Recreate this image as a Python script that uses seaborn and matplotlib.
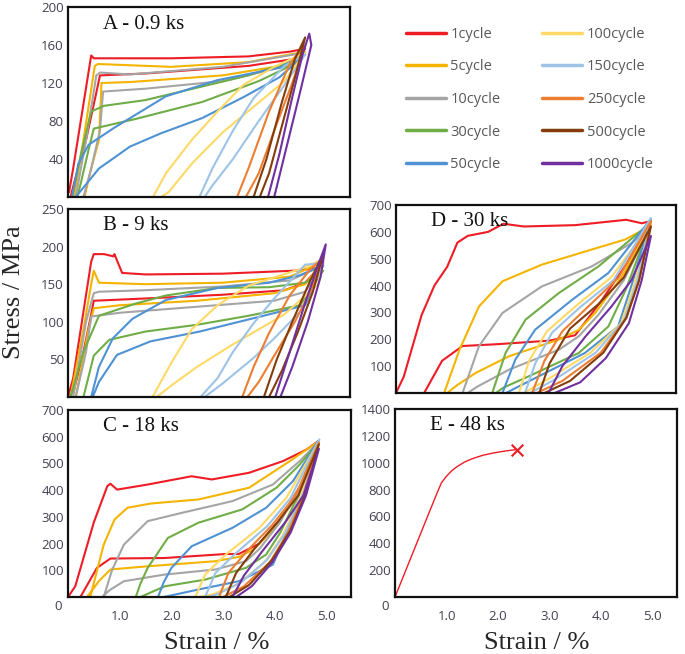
import matplotlib
matplotlib.use("Agg")
import matplotlib.pyplot as plt
from matplotlib.lines import Line2D
import pandas as pd
import seaborn as sns

cycles = ["1cycle", "5cycle", "10cycle", "30cycle", "50cycle",
          "100cycle", "150cycle", "250cycle", "500cycle", "1000cycle"]
colors = ["#ee1c25", "#f5b400", "#a5a5a5", "#70ad47", "#4e92d3",
          "#ffd966", "#9dc3e6", "#ed7d31", "#843c0c", "#7030a0"]

# --- A - 0.9 ks : loading + unloading path for each cycle (strain %, stress MPa)
A_eps = [
    [0.02, 0.1, 0.45, 0.5, 2.0, 3.5, 4.3, 4.6, 4.35, 3.5, 1.5, 0.62, 0.55, 0.35, 0.12, 0.05],
    [0.12, 0.3, 0.52, 0.58, 2.0, 3.5, 4.6, 4.35, 3.0, 1.2, 0.65, 0.6, 0.45, 0.32],
    [0.15, 0.35, 0.55, 0.62, 1.2, 3.0, 4.6, 4.4, 3.0, 1.5, 0.68, 0.62, 0.45, 0.3],
    [0.08, 0.25, 0.45, 0.7, 1.5, 2.5, 3.5, 4.2, 4.6, 4.2, 3.7, 2.6, 1.3, 0.5, 0.4, 0.25, 0.18],
    [0.08, 0.2, 0.4, 0.9, 1.9, 2.9, 4.1, 4.6, 4.1, 3.4, 2.6, 1.8, 1.2, 0.6, 0.3, 0.15],
    [1.65, 1.9, 2.4, 2.9, 3.4, 4.0, 4.6, 4.2, 3.6, 3.0, 2.4, 1.95, 1.8],
    [2.55, 2.8, 3.2, 3.6, 4.2, 4.6, 4.2, 3.7, 3.2, 2.8, 2.65],
    [3.28, 3.5, 3.9, 4.3, 4.6, 4.35, 4.0, 3.7, 3.45],
    [3.6, 3.85, 4.15, 4.4, 4.6, 4.4, 4.15, 3.9, 3.72],
    [3.88, 4.1, 4.35, 4.55, 4.68, 4.72, 4.5, 4.25, 4.0],
]
A_sig = [
    [5, 30, 149, 146, 146, 148, 153, 156, 145, 138, 130, 128, 110, 60, 15, 0],
    [0, 60, 138, 140, 137, 142, 153, 140, 128, 121, 120, 60, 30, 0],
    [0, 60, 128, 131, 129, 137, 152, 140, 122, 114, 111, 70, 30, 0],
    [0, 45, 90, 96, 102, 115, 128, 140, 150, 135, 122, 100, 82, 72, 50, 15, 0],
    [0, 35, 55, 73, 106, 123, 136, 150, 126, 105, 83, 67, 53, 30, 10, 0],
    [0, 25, 60, 90, 118, 137, 152, 122, 95, 68, 35, 5, 0],
    [0, 30, 70, 104, 138, 150, 118, 80, 40, 12, 0],
    [0, 30, 90, 140, 160, 120, 70, 25, 0],
    [0, 40, 100, 145, 168, 125, 75, 25, 0],
    [0, 45, 105, 150, 172, 160, 110, 55, 0],
]

# --- B - 9 ks
B_eps = [
    [0.0, 0.1, 0.45, 0.5, 0.7, 0.88, 0.9, 1.05, 1.5, 3.0, 4.4, 4.9, 4.95, 4.6, 4.2, 3.0, 1.5, 0.5, 0.45, 0.3, 0.1],
    [0.05, 0.3, 0.45, 0.5, 0.6, 1.5, 3.0, 4.3, 4.95, 4.6, 4.0, 2.5, 1.0, 0.5, 0.4, 0.15],
    [0.1, 0.35, 0.5, 0.6, 1.5, 3.0, 4.3, 4.95, 4.6, 4.0, 2.5, 1.0, 0.45, 0.35, 0.15],
    [0.05, 0.3, 0.6, 1.3, 1.9, 2.9, 3.9, 4.6, 4.95, 4.5, 3.5, 2.5, 1.5, 0.8, 0.5, 0.3],
    [0.45, 0.6, 0.87, 1.25, 1.9, 2.9, 3.9, 4.5, 4.95, 4.6, 3.85, 2.55, 1.6, 0.95, 0.6, 0.48],
    [1.64, 2.0, 2.4, 2.9, 3.5, 4.5, 4.95, 4.85, 4.2, 3.2, 2.5, 2.0, 1.72],
    [2.57, 2.9, 3.2, 3.6, 4.0, 4.6, 4.95, 4.7, 4.5, 4.0, 3.6, 3.0, 2.65],
    [3.38, 3.6, 3.9, 4.3, 4.7, 4.95, 4.7, 4.4, 4.0, 3.7, 3.48],
    [3.8, 4.05, 4.35, 4.7, 4.95, 4.75, 4.45, 4.15, 3.9],
    [4.02, 4.3, 4.6, 4.85, 5.0, 4.9, 4.65, 4.35, 4.12],
]
B_sig = [
    [0, 25, 180, 190, 190, 187, 190, 165, 163, 164, 168, 172, 178, 152, 142, 136, 131, 128, 110, 60, 5],
    [0, 90, 150, 168, 152, 150, 152, 160, 180, 150, 138, 128, 122, 118, 90, 0],
    [0, 100, 138, 140, 142, 147, 155, 175, 140, 128, 120, 112, 107, 60, 0],
    [0, 60, 108, 124, 135, 145, 146, 152, 168, 122, 108, 96, 87, 76, 55, 0],
    [0, 40, 78, 104, 129, 145, 152, 162, 175, 122, 109, 87, 74, 56, 20, 0],
    [0, 45, 90, 122, 148, 170, 183, 150, 110, 70, 40, 15, 0],
    [0, 25, 60, 98, 131, 176, 178, 140, 113, 78, 52, 18, 0],
    [0, 40, 85, 135, 170, 185, 140, 100, 55, 20, 0],
    [0, 50, 100, 155, 190, 140, 85, 35, 0],
    [0, 60, 125, 175, 203, 160, 100, 40, 0],
]

# --- C - 18 ks
C_eps = [
    [0.0, 0.14, 0.5, 0.76, 0.82, 0.95, 1.54, 2.39, 2.78, 3.5, 4.16, 4.61, 4.84, 4.5, 4.1, 3.7, 3.3, 3.05, 1.87, 0.82, 0.56, 0.24],
    [0.43, 0.69, 0.9, 1.15, 1.6, 2.52, 3.5, 4.29, 4.84, 4.45, 4.0, 3.6, 3.3, 2.85, 1.54, 0.82, 0.6, 0.37],
    [0.69, 0.85, 1.08, 1.54, 2.2, 3.18, 3.96, 4.48, 4.84, 4.5, 4.1, 3.7, 3.44, 2.85, 1.87, 1.08, 0.8, 0.66],
    [1.31, 1.4, 1.54, 1.93, 2.52, 3.37, 4.03, 4.48, 4.84, 4.5, 4.1, 3.83, 3.44, 2.65, 1.87, 1.4],
    [1.74, 1.85, 2.0, 2.39, 3.18, 3.83, 4.35, 4.84, 4.5, 4.2, 3.96, 3.3, 2.52, 1.85],
    [2.46, 2.65, 3.05, 3.7, 4.22, 4.84, 4.5, 4.15, 3.8, 3.3, 2.8, 2.55],
    [2.65, 2.85, 3.25, 3.85, 4.3, 4.86, 4.55, 4.2, 3.85, 3.35, 2.9, 2.72],
    [2.92, 3.1, 3.45, 3.95, 4.4, 4.85, 4.55, 4.25, 3.9, 3.4, 3.0],
    [3.05, 3.25, 3.6, 4.05, 4.45, 4.85, 4.6, 4.3, 3.95, 3.5, 3.12],
    [3.18, 3.4, 3.75, 4.2, 4.55, 4.85, 4.6, 4.3, 3.95, 3.55, 3.25],
]
C_sig = [
    [0, 40, 280, 415, 424, 402, 421, 452, 440, 465, 509, 552, 584, 420, 290, 200, 161, 161, 146, 144, 109, 0],
    [0, 196, 290, 334, 350, 365, 409, 509, 582, 400, 260, 180, 150, 134, 115, 103, 60, 0],
    [0, 100, 196, 284, 315, 359, 421, 509, 580, 420, 280, 180, 134, 103, 84, 59, 25, 0],
    [0, 50, 109, 221, 278, 328, 409, 496, 580, 400, 240, 159, 109, 65, 40, 0],
    [0, 55, 109, 190, 259, 334, 434, 585, 390, 230, 121, 59, 28, 0],
    [0, 84, 159, 259, 371, 580, 380, 230, 130, 50, 10, 0],
    [0, 90, 165, 265, 370, 590, 390, 240, 140, 55, 12, 0],
    [0, 90, 170, 270, 380, 578, 380, 240, 130, 40, 0],
    [0, 90, 180, 280, 380, 572, 390, 250, 140, 45, 0],
    [0, 80, 170, 280, 380, 555, 380, 240, 130, 40, 0],
]

# --- D - 30 ks
D_eps = [
    [0.0, 0.15, 0.5, 0.75, 1.0, 1.2, 1.4, 1.8, 2.1, 2.5, 3.5, 4.5, 4.8, 4.98, 4.5, 4.0, 3.5, 3.0, 2.0, 1.3, 0.9, 0.55],
    [0.94, 1.24, 1.62, 2.08, 2.85, 3.82, 4.47, 4.98, 4.4, 3.9, 3.57, 3.18, 2.21, 1.56, 1.2, 1.0],
    [1.3, 1.62, 2.08, 2.85, 3.82, 4.6, 4.98, 4.45, 3.95, 3.57, 3.18, 2.21, 1.6, 1.4],
    [1.88, 2.14, 2.53, 3.18, 3.96, 4.98, 4.5, 4.15, 3.57, 2.66, 2.1, 1.95],
    [2.08, 2.33, 2.72, 3.44, 4.15, 4.98, 4.6, 4.34, 3.69, 2.85, 2.3, 2.15],
    [2.4, 2.6, 2.95, 3.55, 4.2, 4.98, 4.65, 4.4, 3.8, 3.0, 2.5],
    [2.52, 2.72, 3.05, 3.6, 4.25, 4.98, 4.7, 4.45, 3.9, 3.1, 2.62],
    [2.66, 2.9, 3.25, 3.8, 4.35, 4.98, 4.75, 4.5, 4.0, 3.25, 2.75],
    [2.8, 3.0, 3.4, 3.95, 4.45, 4.98, 4.75, 4.5, 4.05, 3.4, 2.9],
    [2.98, 3.25, 3.7, 4.2, 4.6, 4.98, 4.8, 4.55, 4.1, 3.6, 3.1],
]
D_sig = [
    [0, 60, 290, 400, 470, 560, 585, 600, 630, 620, 625, 645, 632, 640, 480, 340, 215, 195, 182, 175, 120, 0],
    [0, 161, 322, 416, 478, 534, 571, 622, 430, 300, 235, 199, 137, 75, 30, 0],
    [0, 174, 298, 397, 471, 558, 625, 420, 290, 211, 161, 87, 25, 0],
    [0, 149, 273, 372, 472, 635, 390, 248, 149, 68, 20, 0],
    [0, 124, 236, 347, 447, 648, 400, 248, 149, 68, 15, 0],
    [0, 120, 230, 330, 430, 630, 400, 260, 150, 55, 0],
    [0, 110, 225, 320, 420, 652, 410, 270, 150, 50, 0],
    [0, 120, 230, 330, 430, 640, 420, 280, 150, 45, 0],
    [0, 110, 240, 330, 430, 620, 420, 280, 150, 45, 0],
    [0, 100, 210, 320, 420, 585, 420, 260, 130, 40, 0],
]

# --- E - 48 ks (single tensile curve, fracture at the end)
E_eps = [0.0, 0.2, 0.4, 0.6, 0.8, 0.9, 1.0, 1.1, 1.2, 1.35, 1.5, 1.7, 1.9, 2.1, 2.25, 2.36]
E_sig = [0, 190, 380, 570, 760, 850, 900, 940, 970, 1005, 1030, 1055, 1072, 1085, 1093, 1098]

panel_titles = ["A - 0.9 ks", "B - 9 ks", "C - 18 ks", "D - 30 ks", "E - 48 ks"]
panel_ymax = [200, 250, 700, 700, 1400]
panel_yticks = [[40, 80, 120, 160, 200], [50, 100, 150, 200, 250],
                [100, 200, 300, 400, 500, 600, 700], [100, 200, 300, 400, 500, 600, 700],
                [200, 400, 600, 800, 1000, 1200, 1400]]
xtick_vals = [1, 2, 3, 4, 5]
xtick_labels = ["1.0", "2.0", "3.0", "4.0", "5.0"]

sns.set_style("white")
plt.rcParams["font.family"] = ["Open Sans", "DejaVu Sans"]
serif = "Liberation Serif"
tick_col = "#404052"

W, H = 685, 654
fig = plt.figure(figsize=(W / 100, H / 100), dpi=100)


def box(l, t, r, b):
    return [l / W, 1 - b / H, (r - l) / W, (b - t) / H]


axes = [
    fig.add_axes(box(68, 7, 350, 197)),
    fig.add_axes(box(68, 209, 350, 397)),
    fig.add_axes(box(68, 410, 351, 597)),
    fig.add_axes(box(396, 205, 676, 393)),
    fig.add_axes(box(395, 409, 677, 597)),
]


def loops_frame(eps_list, sig_list):
    rows = []
    for name, e, s in zip(cycles, eps_list, sig_list):
        rows.append(pd.DataFrame({"strain": e, "stress": s, "cycle": name}))
    return pd.concat(rows, ignore_index=True)


palette = dict(zip(cycles, colors))
for ax, (e, s) in zip(axes[:4], [(A_eps, A_sig), (B_eps, B_sig), (C_eps, C_sig), (D_eps, D_sig)]):
    df = loops_frame(e, s)
    sns.lineplot(data=df, x="strain", y="stress", hue="cycle", hue_order=cycles,
                 palette=palette, sort=False, estimator=None, legend=False,
                 linewidth=1.5, ax=ax)

sns.lineplot(x=E_eps, y=E_sig, sort=False, estimator=None, color="#ee1c25",
             linewidth=1.0, ax=axes[4])
axes[4].scatter([E_eps[-1]], [E_sig[-1]], marker="x", s=70, color="#ee1c25",
                linewidths=1.5, zorder=5)

for i, ax in enumerate(axes):
    ax.set_xlim(0, 5.47)
    ax.set_ylim(0, panel_ymax[i])
    ax.set_xlabel("")
    ax.set_ylabel("")
    ax.set_xticks(xtick_vals)
    ax.set_yticks(panel_yticks[i])
    ax.tick_params(axis="both", direction="in", length=4, width=1.2, color="#222222",
                   labelsize=9.5, labelcolor=tick_col, pad=3)
    ax.tick_params(axis="x", pad=9)
    if i in (2, 4):
        ax.set_xticklabels(xtick_labels)
        ax.text(-0.02, -0.05, "0", transform=ax.transAxes, ha="right", va="center",
                fontsize=9.5, color=tick_col)
    else:
        ax.set_xticklabels([])
    for sp in ax.spines.values():
        sp.set_visible(True)
        sp.set_linewidth(1.6)
        sp.set_color("#111111")
    ax.text(0.125, 0.91, panel_titles[i], transform=ax.transAxes, ha="left", va="center",
            fontsize=15, family=serif, color="#111111")

fig.text(14 / W, 1 - 292 / H, "Stress / MPa", rotation=90, ha="center", va="center",
         fontsize=19, family=serif)
fig.text(217 / W, 1 - 643 / H, "Strain / %", ha="center", va="center", fontsize=19, family=serif)
fig.text(537 / W, 1 - 643 / H, "Strain / %", ha="center", va="center", fontsize=19, family=serif)

handles = [Line2D([], [], color=c, linewidth=2.5) for c in colors]
fig.legend(handles, cycles, ncol=2,
           loc="upper left", bbox_to_anchor=(406 / W, 1 - 27 / H), frameon=False,
           fontsize=10.5, handlelength=2.75, handletextpad=0.3, labelspacing=1.2,
           columnspacing=2.85, borderpad=0, borderaxespad=0, labelcolor="#595959")

fig.savefig("out.png", dpi=100)
